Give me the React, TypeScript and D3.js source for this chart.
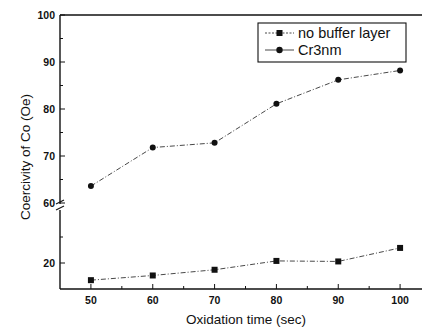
import React from 'react';
import * as d3 from 'd3';

// data
const times = [50, 60, 70, 80, 90, 100];
const noBuffer = [16.7, 17.6, 18.7, 20.4, 20.3, 22.9];
const cr3nm = [63.6, 71.8, 72.8, 81.1, 86.2, 88.2];
const xTicks = [50, 60, 70, 80, 90, 100];
const xMinor = [55, 65, 75, 85, 95];
const yUpperTicks = [60, 70, 80, 90, 100];
const yUpperMinor = [65, 75, 85, 95];
const yLowerTicks = [20];
const yLowerMinor = [25];
const seriesNames = ['no buffer layer', 'Cr3nm'];

const W = 422, H = 329;
const left = 60, right = 431;
const font = 'Liberation Sans, Arial, sans-serif';
const ink = '#111';

export default function App() {
  const x = d3.scaleLinear().domain([45, 105]).range([left, right]);
  // broken y axis: two segments
  const yUp = d3.scaleLinear().domain([60, 100]).range([203, 15]);
  const yLo = d3.scaleLinear().domain([15, 30]).range([289, 211]);

  const lineLo = d3.line<number>().x((_, i) => x(times[i])).y(d => yLo(d));
  const lineUp = d3.line<number>().x((_, i) => x(times[i])).y(d => yUp(d));

  const dash = '5,2,1,2';

  return (
    <svg width={W} height={H} style={{ position: 'absolute', left: 0, top: 0, background: '#fff' }}>
      {/* frame: top and bottom */}
      <line x1={left} x2={right} y1={15} y2={15} stroke={ink} strokeWidth={1.4} />
      <line x1={left} x2={right} y1={289} y2={289} stroke={ink} strokeWidth={1.4} />
      {/* left axis, two segments */}
      <line x1={left} x2={left} y1={15} y2={204} stroke={ink} strokeWidth={1.4} />
      <line x1={left} x2={left} y1={210} y2={289} stroke={ink} strokeWidth={1.4} />
      {/* break marks */}
      <line x1={left - 4} x2={left + 4} y1={204} y2={200} stroke={ink} strokeWidth={1.1} />
      <line x1={left - 4} x2={left + 4} y1={210} y2={206} stroke={ink} strokeWidth={1.1} />

      {/* y ticks */}
      {yUpperTicks.map(t => (
        <g key={'yu' + t}>
          <line x1={left} x2={left + 5} y1={yUp(t)} y2={yUp(t)} stroke={ink} />
          <text x={left - 5} y={yUp(t)} dy="0.35em" textAnchor="end" fontFamily={font} fontSize={10.5} fontWeight="bold" fill={ink}>{t}</text>
        </g>
      ))}
      {yUpperMinor.map(t => (
        <line key={'yum' + t} x1={left} x2={left + 3} y1={yUp(t)} y2={yUp(t)} stroke={ink} />
      ))}
      {yLowerTicks.map(t => (
        <g key={'yl' + t}>
          <line x1={left} x2={left + 5} y1={yLo(t)} y2={yLo(t)} stroke={ink} />
          <text x={left - 5} y={yLo(t)} dy="0.35em" textAnchor="end" fontFamily={font} fontSize={10.5} fontWeight="bold" fill={ink}>{t}</text>
        </g>
      ))}
      {yLowerMinor.map(t => (
        <line key={'ylm' + t} x1={left} x2={left + 3} y1={yLo(t)} y2={yLo(t)} stroke={ink} />
      ))}

      {/* x ticks */}
      {xTicks.map(t => (
        <g key={'x' + t}>
          <line x1={x(t)} x2={x(t)} y1={289} y2={284} stroke={ink} />
          <text x={x(t)} y={304} textAnchor="middle" fontFamily={font} fontSize={10.5} fontWeight="bold" fill={ink}>{t}</text>
        </g>
      ))}
      {xMinor.map(t => (
        <line key={'xm' + t} x1={x(t)} x2={x(t)} y1={289} y2={286} stroke={ink} />
      ))}

      {/* series lines */}
      <path d={lineLo(noBuffer) ?? ''} fill="none" stroke="#333" strokeWidth={0.9} strokeDasharray={dash} />
      <path d={lineUp(cr3nm) ?? ''} fill="none" stroke="#333" strokeWidth={0.9} strokeDasharray={dash} />
      {noBuffer.map((v, i) => (
        <rect key={'s' + i} x={x(times[i]) - 3} y={yLo(v) - 3} width={6} height={6} fill={ink} />
      ))}
      {cr3nm.map((v, i) => (
        <circle key={'c' + i} cx={x(times[i])} cy={yUp(v)} r={3} fill={ink} />
      ))}

      {/* legend */}
      <rect x={258} y={23} width={148} height={39} fill="#fff" stroke={ink} strokeWidth={1.1} />
      {seriesNames.map((name, i) => {
        const ly = 33 + i * 17;
        return (
          <g key={name}>
            <line x1={265} x2={294} y1={ly} y2={ly} stroke="#333" strokeWidth={0.9} strokeDasharray={i === 0 ? '2,1.5' : 'none'} />
            {i === 0
              ? <rect x={276.5} y={ly - 3} width={6} height={6} fill={ink} />
              : <circle cx={279.5} cy={ly} r={3.2} fill={ink} />}
            <text x={298} y={ly} dy="0.35em" fontFamily={font} fontSize={14.5} fill={ink}>{name}</text>
          </g>
        );
      })}

      {/* axis titles */}
      <text x={246} y={324} textAnchor="middle" fontFamily={font} fontSize={13.5} fill={ink}>Oxidation time (sec)</text>
      <text transform="translate(30,157) rotate(-90)" textAnchor="middle" fontFamily={font} fontSize={13.5} fill={ink}>Coercivity of Co (Oe)</text>
    </svg>
  );
}
